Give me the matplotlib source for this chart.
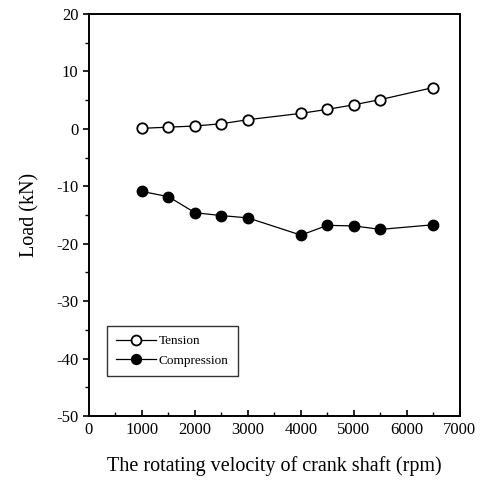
import matplotlib
matplotlib.use("Agg")
import matplotlib.pyplot as plt
from matplotlib.ticker import MultipleLocator

plt.rcParams['font.family'] = ['Liberation Serif', 'DejaVu Serif']
plt.rcParams['axes.unicode_minus'] = False

rpm = [1000, 1500, 2000, 2500, 3000, 4000, 4500, 5000, 5500, 6500]
tension = [0.1, 0.3, 0.5, 0.9, 1.6, 2.7, 3.4, 4.2, 5.1, 7.2]
compression = [-10.9, -11.8, -14.6, -15.1, -15.5, -18.5, -16.8, -16.9, -17.5, -16.7]

fig = plt.figure(figsize=(4.81, 4.84), dpi=100)
ax = fig.add_axes([0.185, 0.1405, 0.771, 0.8305])

ax.plot(rpm, tension, '-o', color='black', mfc='white', mec='black', mew=1.3,
        ms=7.5, lw=0.9, label='Tension')
ax.plot(rpm, compression, '-o', color='black', mfc='black', mec='black',
        ms=7.5, lw=0.9, label='Compression')

ax.set_xlim(0, 7000)
ax.set_ylim(-50, 20)
ax.xaxis.set_major_locator(MultipleLocator(1000))
ax.xaxis.set_minor_locator(MultipleLocator(500))
ax.yaxis.set_major_locator(MultipleLocator(10))
ax.yaxis.set_minor_locator(MultipleLocator(5))
ax.tick_params(axis='x', which='both', direction='in', labelsize=12, pad=4)
ax.tick_params(axis='y', which='both', direction='out', labelsize=12)
ax.tick_params(which='major', length=4, width=1.2)
ax.tick_params(which='minor', length=3, width=1.0)
for s in ax.spines.values():
    s.set_linewidth(1.4)

ax.set_xlabel('The rotating velocity of crank shaft (rpm)', fontsize=14.5, labelpad=13)
ax.set_ylabel('Load (kN)', fontsize=14.5, labelpad=12)

leg = ax.legend(loc='lower left', bbox_to_anchor=(0.03, 0.083), fontsize=9.5,
                frameon=True, fancybox=False, edgecolor='black',
                handlelength=3.0, borderpad=0.7, labelspacing=0.55, handletextpad=0.25,
                markerscale=0.95)
leg.get_frame().set_linewidth(1.0)

fig.savefig('out.png', dpi=100)
